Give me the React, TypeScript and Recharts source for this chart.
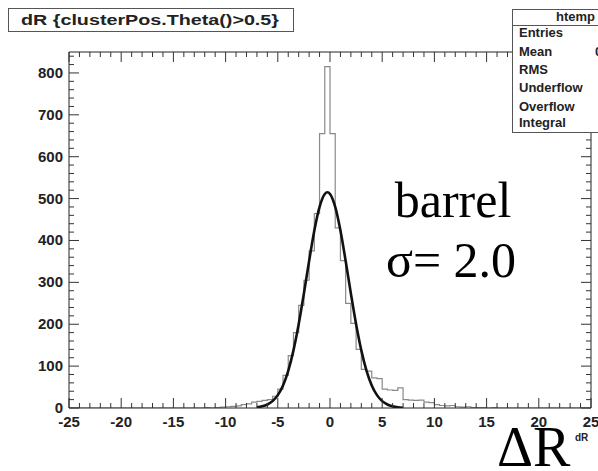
import React from 'react';
import { LineChart, Line, XAxis, YAxis } from 'recharts';

// ---- data ----
const binStart = -25;
const binWidth = 0.5;
// histogram counts, 100 bins of 0.5 from -25 to 25
const counts: number[] = [
  0, 0, 0, 0, 0, 0, 0, 0, 0, 0,
  0, 0, 0, 0, 0, 0, 0, 0, 0, 0,
  0, 0, 0, 0, 0, 0, 1, 0, 1, 2,
  3, 4, 5, 8, 10, 14, 16, 18, 20, 28,
  45, 78, 125, 180, 245, 305, 375, 464, 655, 815,
  655, 430, 352, 250, 202, 140, 92, 88, 72, 70,
  45, 43, 42, 48, 20, 19, 18, 19, 14, 13,
  8, 6, 5, 6, 3, 2, 3, 1, 1, 1,
  0, 1, 0, 0, 0, 0, 0, 0, 0, 0,
  0, 0, 0, 0, 0, 0, 0, 0, 0, 0,
];

// gaussian fit curve
const fitX: number[] = [-7, -6.5, -6, -5.5, -5, -4.5, -4, -3.5, -3, -2.5, -2, -1.5, -1, -0.5, -0.25, 0, 0.5, 1, 1.5, 2, 2.5, 3, 3.5, 4, 4.5, 5, 5.5, 6, 6.5, 7];
const fitY: number[] = [1.7, 3.9, 8.3, 16.4, 30.7, 53.9, 88.8, 137.6, 200, 273.5, 351, 423.6, 480, 511, 515, 511, 480, 423.6, 351, 273.5, 200, 137.6, 88.8, 53.9, 30.7, 16.4, 8.3, 3.9, 1.7, 0.7];

const xTicks: number[] = [];
for (let v = -25; v <= 25; v += 1) xTicks.push(v);
const yTicks: number[] = [];
for (let v = 0; v <= 840; v += 20) yTicks.push(v);

const statLabels: string[] = ['Entries', 'Mean', 'RMS', 'Underflow', 'Overflow', 'Integral'];

const histPoints = counts.map((c, i) => ({ x: binStart + binWidth * i, y: c }));
histPoints.push({ x: binStart + binWidth * counts.length, y: counts[counts.length - 1] });
const fitPoints = fitX.map((x, i) => ({ x, y: fitY[i] }));

const SANS = "'Liberation Sans', Arial, Helvetica, sans-serif";
const SERIF = "'Liberation Serif', 'Times New Roman', serif";
const TICK = '#333';
const TXT = '#222';

const BottomTick = (props: any) => {
  const { x, y, payload } = props;
  const v = payload.value;
  const major = v % 5 === 0;
  return (
    <g>
      <line x1={x} y1={y} x2={x} y2={y - (major ? 10 : 5)} stroke={TICK} strokeWidth={1} />
      {major && (
        <text x={x} y={y + 19} textAnchor="middle" fontFamily={SANS} fontWeight="bold" fontSize={15} fill={TXT}>
          {v}
        </text>
      )}
    </g>
  );
};

const TopTick = (props: any) => {
  const { x, y, payload } = props;
  const major = payload.value % 5 === 0;
  return <line x1={x} y1={y} x2={x} y2={y + (major ? 10 : 5)} stroke={TICK} strokeWidth={1} />;
};

const LeftTick = (props: any) => {
  const { x, y, payload } = props;
  const v = payload.value;
  const major = v % 100 === 0;
  return (
    <g>
      <line x1={x} y1={y} x2={x + (major ? 10 : 5)} y2={y} stroke={TICK} strokeWidth={1} />
      {major && (
        <text x={x - 6} y={y + 5} textAnchor="end" fontFamily={SANS} fontWeight="bold" fontSize={15} fill={TXT}>
          {v}
        </text>
      )}
    </g>
  );
};

const RightTick = (props: any) => {
  const { x, y, payload } = props;
  const major = payload.value % 100 === 0;
  return <line x1={x} y1={y} x2={x - (major ? 10 : 5)} y2={y} stroke={TICK} strokeWidth={1} />;
};

export default function App() {
  return (
    <div style={{ position: 'absolute', left: 0, top: 0, width: 598, height: 471, background: '#fff', overflow: 'hidden' }}>
      <LineChart width={598} height={471} margin={{ top: 51, right: 6, bottom: 0, left: 0 }}>
        <XAxis
          xAxisId="b"
          type="number"
          dataKey="x"
          domain={[-25, 25]}
          ticks={xTicks}
          interval={0}
          height={63}
          tickSize={0}
          tickMargin={0}
          tickLine={false}
          tick={BottomTick}
          axisLine={{ stroke: '#222' }}
          allowDataOverflow
        />
        <XAxis
          xAxisId="t"
          orientation="top"
          type="number"
          dataKey="x"
          domain={[-25, 25]}
          ticks={xTicks}
          interval={0}
          height={1}
          tickSize={0}
          tickMargin={0}
          tickLine={false}
          tick={TopTick}
          axisLine={{ stroke: '#222' }}
          allowDataOverflow
        />
        <YAxis
          yAxisId="l"
          type="number"
          domain={[0, 850]}
          ticks={yTicks}
          interval={0}
          width={69}
          tickSize={0}
          tickMargin={0}
          tickLine={false}
          tick={LeftTick}
          axisLine={{ stroke: '#222' }}
          allowDataOverflow
        />
        <YAxis
          yAxisId="r"
          orientation="right"
          type="number"
          domain={[0, 850]}
          ticks={yTicks}
          interval={0}
          width={1}
          tickSize={0}
          tickMargin={0}
          tickLine={false}
          tick={RightTick}
          axisLine={{ stroke: '#222' }}
          allowDataOverflow
        />
        <Line
          xAxisId="b"
          yAxisId="l"
          data={histPoints}
          dataKey="y"
          type="stepAfter"
          stroke="#8a8a8a"
          strokeWidth={1.2}
          dot={false}
          activeDot={false}
          isAnimationActive={false}
        />
        <Line
          xAxisId="b"
          yAxisId="l"
          data={fitPoints}
          dataKey="y"
          type="monotone"
          stroke="#111"
          strokeWidth={2.6}
          dot={false}
          activeDot={false}
          isAnimationActive={false}
        />
      </LineChart>
      <svg width={598} height={471} style={{ position: 'absolute', left: 0, top: 0, pointerEvents: 'none' }}>
        {/* title box */}
        <rect x={8.5} y={8.5} width={285} height={23} fill="#fff" stroke="#555" />
        <text x={21} y={25} fontFamily={SANS} fontWeight="bold" fontSize={14} fill={TXT} textLength={258} lengthAdjust="spacingAndGlyphs">
          dR {'{'}clusterPos.Theta()&gt;0.5{'}'}
        </text>
        {/* stats box */}
        <rect x={512.5} y={9.5} width={120} height={123} fill="#fff" stroke="#555" />
        <line x1={512.5} y1={25.5} x2={598} y2={25.5} stroke="#555" />
        <text x={556} y={21} fontFamily={SANS} fontWeight="bold" fontSize={13} fill={TXT}>htemp</text>
        {statLabels.map((s, i) => (
          <text key={s} x={519} y={[37, 56, 74, 92, 111, 127][i]} fontFamily={SANS} fontWeight="bold" fontSize={13} fill={TXT}>
            {s}
          </text>
        ))}
        <text x={595} y={56} fontFamily={SANS} fontWeight="bold" fontSize={13} fill={TXT}>0.05</text>
        {/* annotations */}
        <text x={453} y={217} textAnchor="middle" fontFamily={SERIF} fontSize={50} fill="#000">barrel</text>
        <text x={451} y={277} textAnchor="middle" fontFamily={SERIF} fontSize={50} fill="#000">σ= 2.0</text>
        <text x={497} y={466} fontFamily={SERIF} fontSize={56} fill="#000">ΔR</text>
        <text x={575} y={441} fontFamily={SANS} fontWeight="bold" fontSize={10} fill={TXT}>dR</text>
      </svg>
    </div>
  );
}
